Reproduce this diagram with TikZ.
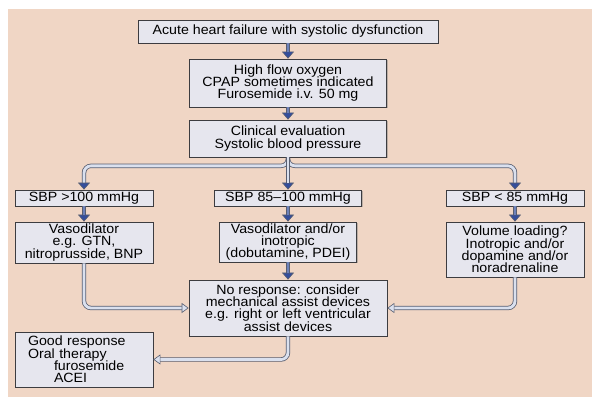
\documentclass[tikz,border=0pt]{standalone}
\usepackage{fontspec}
\setmainfont{Liberation Sans}[FakeStretch=1.06]
\usepackage{tikz}
\usetikzlibrary{arrows.meta,shadows}
\definecolor{bgpeach}{RGB}{240,214,197}
\definecolor{boxfill}{RGB}{230,230,238}
\definecolor{boxline}{RGB}{60,60,64}
\definecolor{pipeline}{RGB}{88,94,112}
\definecolor{pipefill}{RGB}{218,224,238}
\definecolor{stemblue}{RGB}{110,130,186}
\definecolor{tipblue}{RGB}{52,78,156}
\newcommand\boxfont{\fontsize{13.4}{12.2}\selectfont\lineskiplimit-20pt\relax}
\tikzstyle{box} = [rectangle, draw=boxline, fill=boxfill, line width=0.7pt, inner sep=0pt,
                   align=center, font=\boxfont,
                   drop shadow={shadow xshift=1.2pt, shadow yshift=-1.2pt, opacity=.45}]
\tikzset{conn/.style n args={3}{draw=pipeline, line width=4.4pt, rounded corners=7pt,
	-{Triangle[length=7pt,width=#3,line width=.6pt,fill=#2]},
	postaction={draw=#1, line width=2.8pt, -, shorten >=7pt}},
	pipe/.style={conn={pipefill}{pipefill}{10pt}},
	stem/.style={conn={stemblue}{tipblue}{12pt}},
	branch/.style={conn={pipefill}{tipblue}{12pt}}}

\begin{document}
\begin{tikzpicture}[x=1pt,y=1pt]
		\useasboundingbox (0,0) rectangle (599,405);
		\fill[bgpeach] (8,8) rectangle (592,396);

		\node at(288,373.5)[box,minimum width=300pt,minimum height=23pt](start){Acute heart failure with systolic dysfunction};
		\node at(288,322)[box,minimum width=197pt,minimum height=48pt](oxy){High flow oxygen\\CPAP sometimes indicated\\Furosemide i.v. 50 mg};
		\node at(288,266.5)[box,minimum width=197pt,minimum height=37pt](eval){Clinical evaluation\\Systolic blood pressure};
		\foreach \n/\x/\w/\t in {sbpa/84/138/{SBP >100 mmHg},sbpb/288/147/{SBP 85–100 mmHg},sbpc/515/138/{SBP < 85 mmHg}}
		\node at(\x,207)[box,minimum width=\w pt,minimum height=16pt](\n){\t};
		\node at(84,162.5)[box,minimum width=138pt,minimum height=41pt](vaso){Vasodilator\\e.g. GTN,\\nitroprusside, BNP};
		\node at(288,163)[box,minimum width=137pt,minimum height=40pt](mixed){Vasodilator and/or\\inotropic\\(dobutamine, PDEI)};
		\node at(515,155.5)[box,minimum width=138pt,minimum height=55pt](volume){Volume loading?\\Inotropic and/or\\dopamine and/or\\noradrenaline};
		\node at(288,97)[box,minimum width=198pt,minimum height=56pt](noresp){No response: consider\\mechanical assist devices\\e.g. right or left ventricular\\assist devices};
		\node at(84,45.5)[box,align=left,text width=112pt,inner xsep=13pt,minimum height=55pt](good){Good response\\Oral therapy\\\hspace*{26pt}furosemide\\\hspace*{26pt}ACEI};

		\draw[stem] (start) -- (oxy);
		\draw[stem] (oxy) -- (eval);
		\draw[branch] (eval.south) -- ++(0,-8.5) -| (sbpa.north);
		\draw[branch] (eval.south) -- ++(0,-8.5) -| (sbpc.north);
		\draw[branch] (eval.south) -- (sbpb.north);
		\draw[stem] (sbpa) -- (vaso);
		\draw[stem] (sbpb) -- (mixed);
		\draw[stem] (sbpc) -- (volume);
		\draw[stem] (mixed) -- (noresp);
		\draw[pipe] (vaso.south) |- (noresp.west);
		\draw[pipe] (volume.south) |- (noresp.east);
		\draw[pipe] (noresp.south) |- (good.east);
	\end{tikzpicture}
\end{document}
